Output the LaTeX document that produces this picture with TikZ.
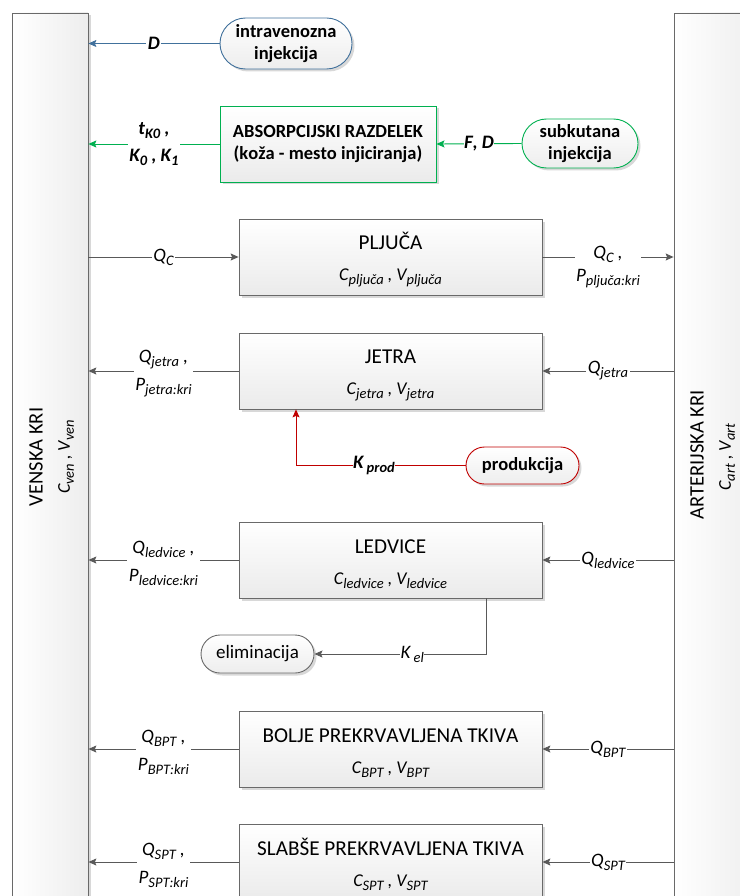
\documentclass[tikz,border=0pt]{standalone}
\usepackage{fontspec}
\setmainfont{Carlito}[Kerning=Off]
\usetikzlibrary{shapes.misc,arrows.meta,shadows}

\definecolor{lgray}{RGB}{89,89,89}
\definecolor{bgray}{RGB}{105,105,105}
\definecolor{vblue}{RGB}{65,113,156}
\definecolor{vgreen}{RGB}{0,176,80}
\definecolor{vred}{RGB}{192,0,0}

\newcommand\sbs[1]{\raisebox{-4pt}{\fontsize{14.5}{14}\selectfont #1}}
\newcommand\ttl[1]{\rule{0pt}{22pt}#1}

\tikzset{
  shad/.style={drop shadow={shadow xshift=2.5pt, shadow yshift=-2.5pt, fill=gray!60, opacity=0.5}},
  organ/.style={draw=bgray, line width=0.8pt, top color=white, bottom color=gray!16,
    minimum width=303pt, minimum height=76pt, inner sep=0pt, align=center, shad,
    font=\fontsize{21.2}{24}\selectfont},
  bar/.style={draw=bgray, line width=0.8pt, left color=white, right color=gray!14, shad, inner sep=0pt},
  pill/.style={rounded rectangle, line width=0.9pt, top color=white, bottom color=gray!14,
    inner sep=0pt, align=center, shad, font=\bfseries\fontsize{18.5}{22}\selectfont},
  lbl/.style={fill=white, inner sep=1.5pt, align=center, text=black,
    font=\itshape\fontsize{19}{28}\selectfont},
  blbl/.style={lbl, font=\bfseries\itshape\fontsize{19}{27}\selectfont},
  conn/.style={line width=0.9pt, draw=lgray},
  arr/.style={-{Stealth[length=8pt,width=7pt,inset=1.5pt]}},
  subt/.style={font=\itshape\fontsize{18}{20}\selectfont},
}

\begin{document}
\begin{tikzpicture}[x=1pt,y=-1pt]
\useasboundingbox (0,0) rectangle (739,896);

% blood bars
\node[bar, minimum width=75.5pt, minimum height=907pt] (ven) at (50.25,466.5) {};
\node[bar, minimum width=86pt, minimum height=907pt] (art) at (717,466.5) {};
\node[rotate=90, font=\fontsize{20.5}{24}\selectfont] (venl) at (36,457) {VENSKA KRI};
\node[rotate=90, subt] (venc) at (66,457) {C\sbs{ven} , V\sbs{ven}};
\node[rotate=90, font=\fontsize{20.5}{24}\selectfont] (artl) at (697,455) {ARTERIJSKA KRI};
\node[rotate=90, subt] (artc) at (727,457) {C\sbs{art} , V\sbs{art}};

% injections
\node[pill, draw=vblue, minimum width=132pt, minimum height=51pt] (iv) at (286,43.5) {intravenozna\\injekcija};
\node[draw=vgreen, line width=0.9pt, top color=white, bottom color=gray!16, shad,
      minimum width=216pt, minimum height=76pt, inner sep=0pt, align=center,
      font=\bfseries\fontsize{18.5}{22}\selectfont] (abs) at (328,144) {ABSORPCIJSKI RAZDELEK\\(koža - mesto injiciranja)};
\node[pill, draw=vgreen, minimum width=116pt, minimum height=49pt] (sc) at (580,143.5) {subkutana\\injekcija};

% organs
\node[organ] (pl) at (390.5,257) {\ttl{PLJUČA}\\[7pt]{\itshape\fontsize{18}{20}\selectfont C\sbs{pljuča} , V\sbs{pljuča}}};
\node[organ] (je) at (390.5,371) {\ttl{JETRA}\\[7pt]{\itshape\fontsize{18}{20}\selectfont C\sbs{jetra} , V\sbs{jetra}}};
\node[organ] (le) at (390.5,560) {\ttl{LEDVICE}\\[7pt]{\itshape\fontsize{18}{20}\selectfont C\sbs{ledvice} , V\sbs{ledvice}}};
\node[organ] (bpt) at (390.5,749) {\ttl{BOLJE PREKRVAVLJENA TKIVA}\\[7pt]{\itshape\fontsize{18}{20}\selectfont C\sbs{BPT} , V\sbs{BPT}}};
\node[organ] (spt) at (390.5,862) {\ttl{SLABŠE PREKRVAVLJENA TKIVA}\\[7pt]{\itshape\fontsize{18}{20}\selectfont C\sbs{SPT} , V\sbs{SPT}}};

% production / elimination
\node[pill, draw=vred, minimum width=113pt, minimum height=37pt] (prod) at (522.5,465.5) {produkcija};
\node[pill, draw=bgray, font=\fontsize{19}{22}\selectfont, minimum width=113pt, minimum height=38pt] (el) at (257.5,654) {eliminacija};

\coordinate (kp) at (296,465.5);
\coordinate (ke) at (486,654);

% connectors
\draw[conn, draw=vblue, arr] (iv.west) -- node[blbl]{D} (iv.west -| ven.east);
\draw[conn, draw=vgreen, arr] (abs.west) -- node[blbl]{t\sbs{K0} ,\\K\sbs{0} , K\sbs{1}} (abs.west -| ven.east);
\draw[conn, draw=vgreen, arr] (sc.west) -- node[blbl, inner sep=0.5pt]{F, D} (abs.east);

\draw[conn, arr] (pl.west -| ven.east) -- node[lbl]{Q\sbs{C}} (pl.west);
\draw[conn, arr] (pl.east) -- node[lbl, yshift=-10pt, font=\itshape\fontsize{19}{23}\selectfont]{Q\sbs{C} ,\\P\sbs{pljuča:kri}} (pl.east -| art.west);

\draw[conn, arr] (je.east -| art.west) -- node[lbl]{Q\sbs{jetra}} (je.east);
\draw[conn, arr] (je.west) -- node[lbl, yshift=-3pt]{Q\sbs{jetra} ,\\P\sbs{jetra:kri}} (je.west -| ven.east);

\draw[conn, draw=vred, arr] (prod.west) -- node[blbl, pos=0.54, inner sep=0.5pt]{K\,\sbs{prod}} (kp) -- (kp |- je.south);

\draw[conn, arr] (le.east -| art.west) -- node[lbl]{Q\sbs{ledvice}} (le.east);
\draw[conn, arr] (le.west) -- node[lbl, yshift=-3pt]{Q\sbs{ledvice} ,\\P\sbs{ledvice:kri}} (le.west -| ven.east);
\draw[conn, arr] (le.south -| ke) -- (ke) -- node[lbl, pos=0.43, inner sep=0.5pt]{K\,\sbs{el}} (el.east);

\draw[conn, arr] (bpt.east -| art.west) -- node[lbl]{Q\sbs{BPT}} (bpt.east);
\draw[conn, arr] (bpt.west) -- node[lbl, yshift=-3pt]{Q\sbs{BPT} ,\\P\sbs{BPT:kri}} (bpt.west -| ven.east);

\draw[conn, arr] (spt.east -| art.west) -- node[lbl]{Q\sbs{SPT}} (spt.east);
\draw[conn, arr] (spt.west) -- node[lbl, yshift=-3pt]{Q\sbs{SPT} ,\\P\sbs{SPT:kri}} (spt.west -| ven.east);
\end{tikzpicture}
\end{document}
